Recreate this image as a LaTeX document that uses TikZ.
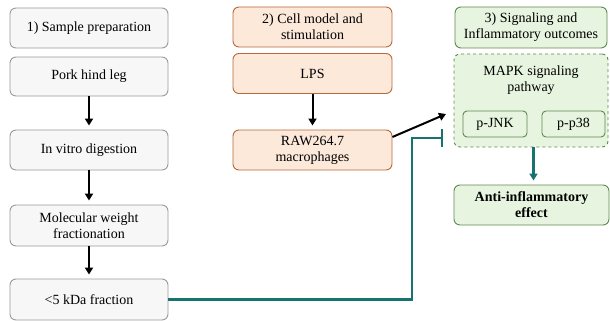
\documentclass[tikz,border=0pt]{standalone}
\usepackage{fontspec}
\setmainfont{Liberation Serif}
\usetikzlibrary{arrows.meta}
\definecolor{grayfill}{HTML}{F7F7F7}
\definecolor{graydraw}{HTML}{9A9A9A}
\definecolor{peachfill}{HTML}{FCE9DA}
\definecolor{peachdraw}{HTML}{B8693A}
\definecolor{greenfill}{HTML}{E7F4DF}
\definecolor{greendraw}{HTML}{5E8A4E}
\definecolor{tealline}{HTML}{167370}
\tikzset{
  box/.style={rounded corners=6pt, line width=0.9pt, align=center, inner sep=0pt,
    font=\fontsize{14}{16}\selectfont, text=black},
  graybox/.style={box, fill=grayfill, draw=graydraw, minimum width=158pt},
  peachbox/.style={box, fill=peachfill, draw=peachdraw, minimum width=159pt, minimum height=40pt},
  greenbox/.style={box, fill=greenfill, draw=greendraw},
  blackarrow/.style={line width=2pt, -{Triangle[length=7pt,width=8pt]}, shorten >=4pt},
  tealarrow/.style={line width=2.5pt, draw=tealline, -{Triangle[length=7pt,width=8pt]}, shorten >=4pt},
}
\begin{document}
\begin{tikzpicture}[x=1pt,y=-1pt]
\useasboundingbox (0,0) rectangle (610,321);
% left column
\node[graybox, minimum height=40pt] (n1) at (89,28) {1) Sample preparation};
\node[graybox, minimum height=39pt] (n2) at (89,76.5) {Pork hind leg};
\node[graybox, minimum height=40pt] (n3) at (89,150) {In vitro digestion};
\node[graybox, minimum height=41pt] (n4) at (89,225.5) {Molecular weight\\fractionation};
\node[graybox, minimum height=41pt] (n5) at (89,299.5) {{<}5 kDa fraction};
% middle column
\node[peachbox] (m1) at (312.5,27) {2) Cell model and\\stimulation};
\node[peachbox] (m2) at (312.5,73.5) {LPS};
\node[peachbox] (m3) at (312.5,150) {RAW264.7\\macrophages};
% right column
\node[greenbox, minimum width=152pt, minimum height=41pt] (r1) at (531,27.5) {3) Signaling and\\Inflammatory outcomes};
\node[greenbox, dashed, minimum width=154pt, minimum height=93pt] (mapk) at (531,100.5) {};
\node[box, anchor=center] (mapkt) at (531,80) {MAPK signaling\\pathway};
\node[greenbox, minimum width=64pt, minimum height=26pt, rounded corners=4pt] (jnk) at (495,124) {p-JNK};
\node[greenbox, minimum width=63pt, minimum height=26pt, rounded corners=4pt] (p38) at (573.5,124) {p-p38};
\node[greenbox, minimum width=155pt, minimum height=40pt] (anti) at (531.5,205) {\textbf{Anti-inflammatory}\\\textbf{effect}};
% connectors
\draw[blackarrow] (n2.south) -- (n3.north);
\draw[blackarrow] (n3.south) -- (n4.north);
\draw[blackarrow] (n4.south) -- (n5.north);
\draw[blackarrow] (m2.south) -- (m3.north);
\coordinate (ta) at (446,114);
\draw[blackarrow, shorten >=0pt] ([yshift=13pt]m3.east) -- (ta);
\draw[tealarrow] ([xshift=2.5pt]mapk.south) -- ([xshift=2pt]anti.north);
\coordinate (tbar) at (443,138);
\draw[line width=2.5pt, draw=tealline, -{Bar[width=18pt,line width=2.5pt]}] (n5.east) -| ([xshift=-31pt]tbar) -- (tbar);
\end{tikzpicture}
\end{document}
